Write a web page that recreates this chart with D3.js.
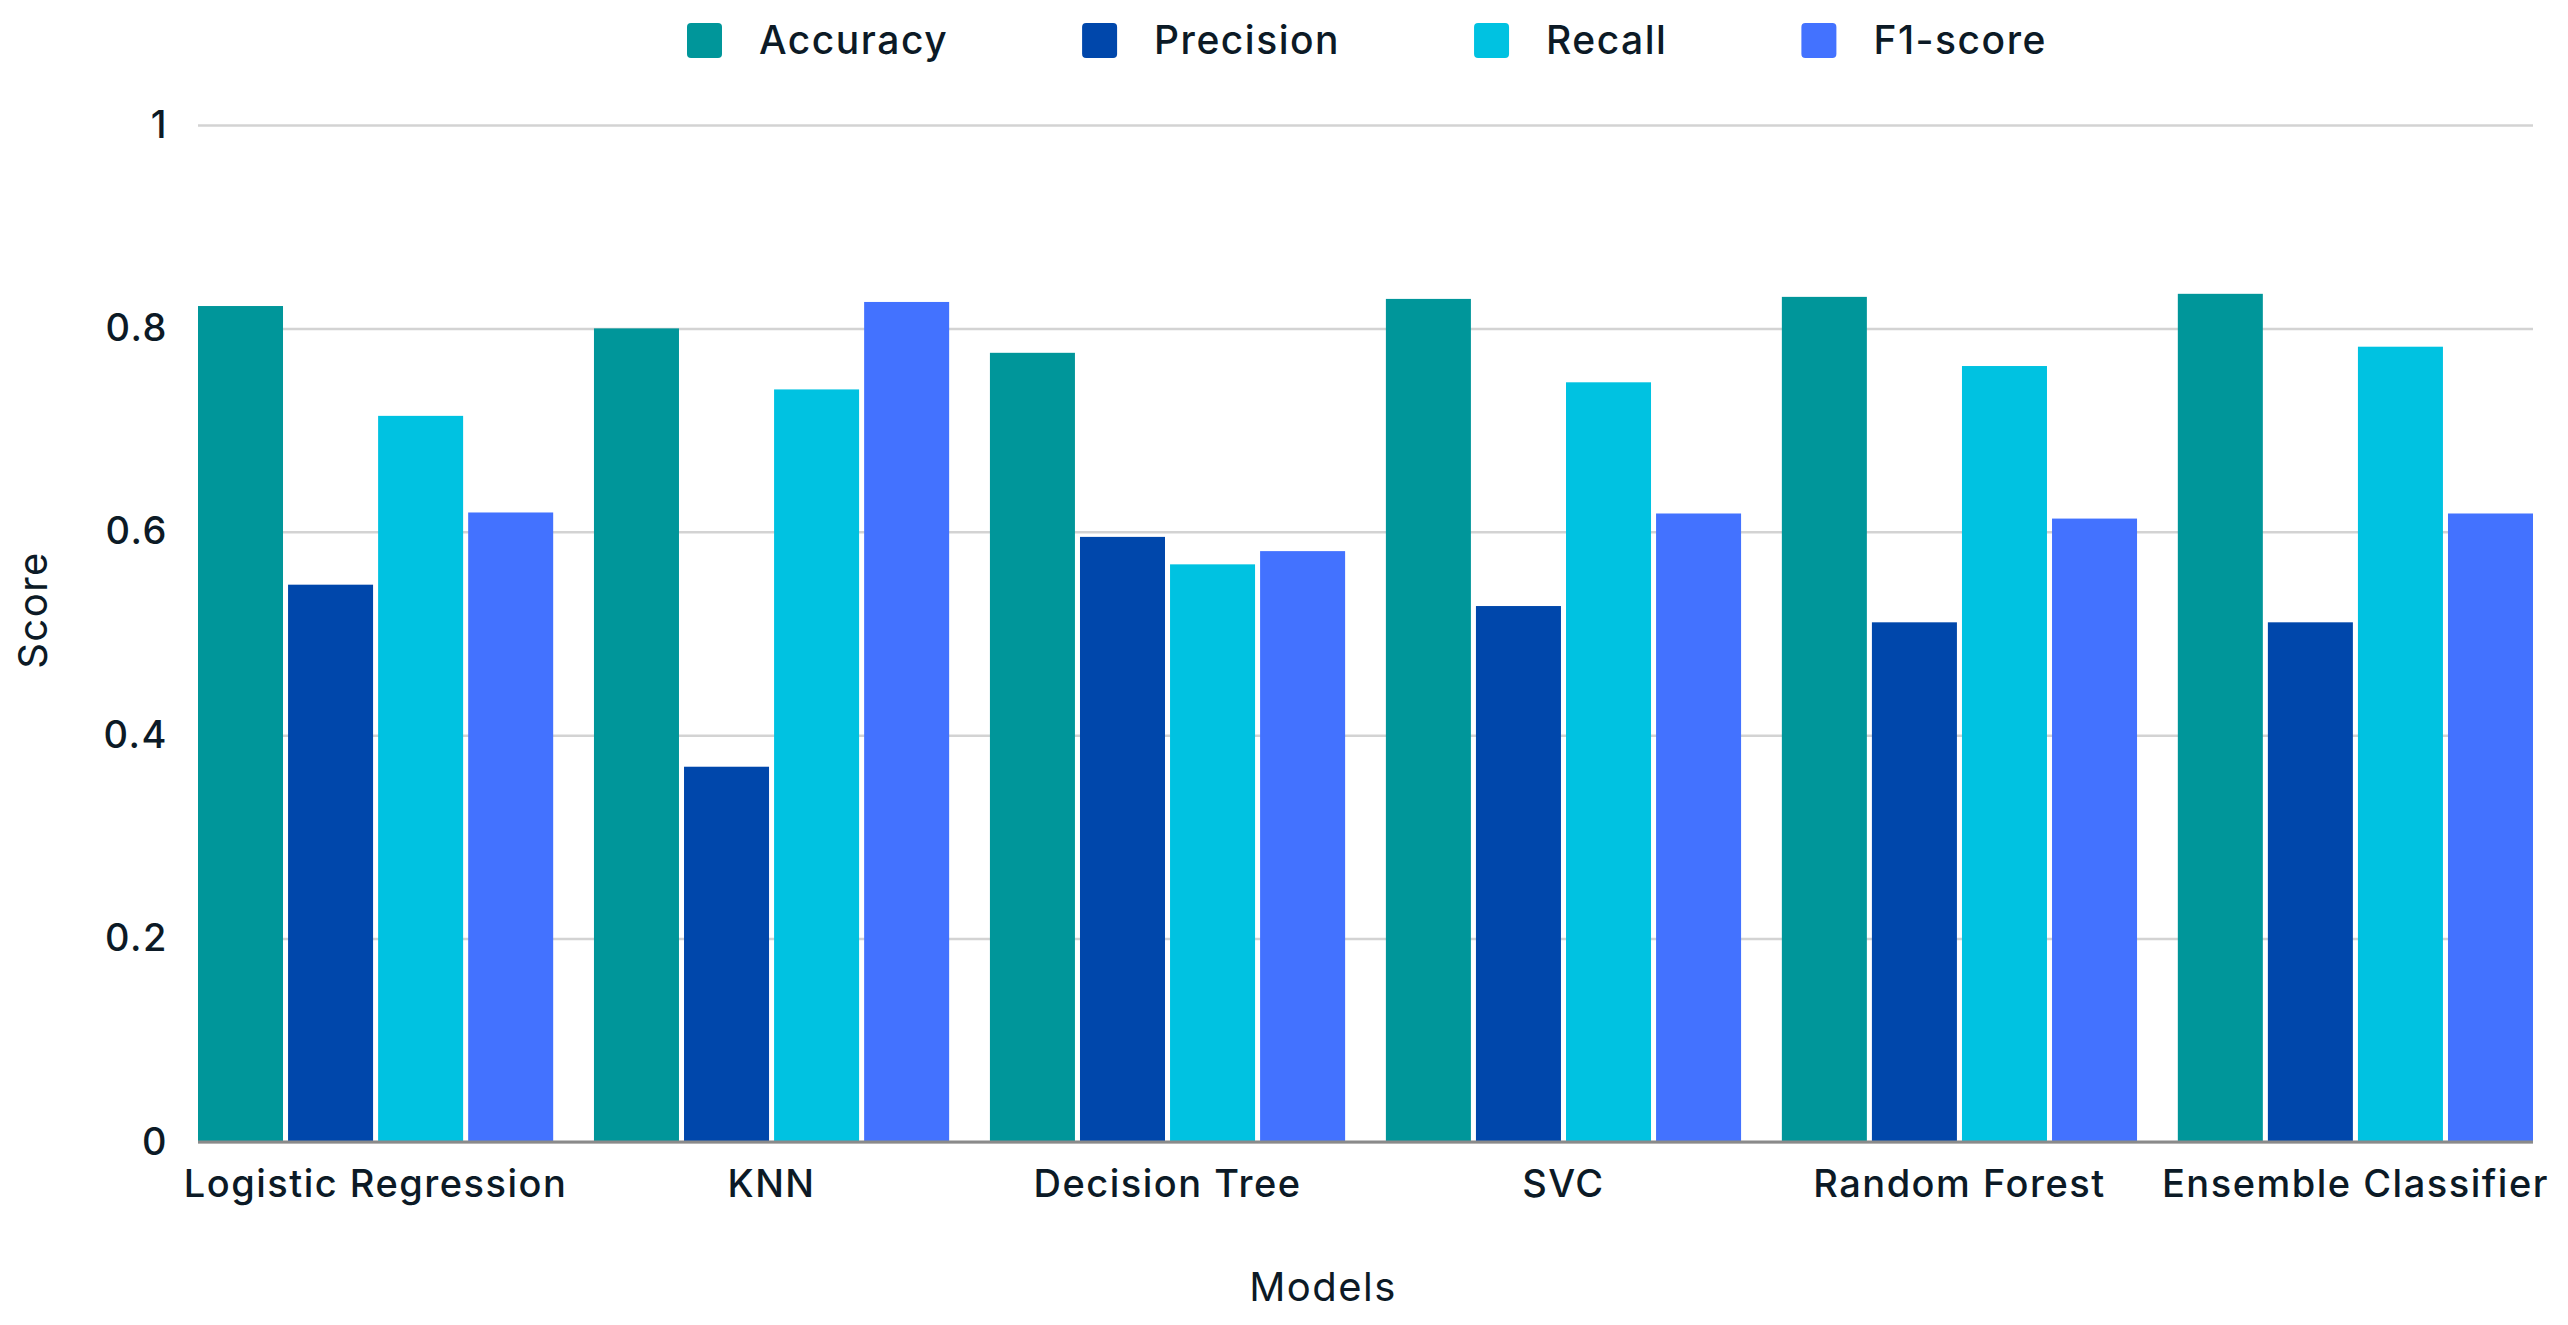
<!DOCTYPE html>
<html>
<head>
<meta charset="utf-8">
<script src="https://cdn.jsdelivr.net/npm/d3@7"></script>
<style>
  body { margin: 0; background: #fff; }
  text { font-family: "Inter", "Open Sans", sans-serif; fill: #0c1a26; letter-spacing: 1.5px; }
</style>
</head>
<body>
<div id="chart"></div>
<script>
// data
var models = ["Logistic Regression", "KNN", "Decision Tree", "SVC", "Random Forest", "Ensemble Classifier"];
var metrics = ["Accuracy", "Precision", "Recall", "F1-score"];
var accuracy  = [0.822, 0.800, 0.776, 0.829, 0.831, 0.834];
var precision = [0.548, 0.369, 0.595, 0.527, 0.511, 0.511];
var recall    = [0.714, 0.740, 0.568, 0.747, 0.763, 0.782];
var f1score   = [0.619, 0.826, 0.581, 0.618, 0.613, 0.618];
var yTicks = [0, 0.2, 0.4, 0.6, 0.8, 1];
var colors = ["#00969a", "#0047ab", "#00c2e1", "#4372ff"];

var series = [accuracy, precision, recall, f1score];
var data = models.map(function(m, i) {
  return { model: m, values: metrics.map(function(k, j) { return { key: k, value: series[j][i] }; }) };
});

var W = 2568, H = 1325;
var margin = {top: 125, right: 35, bottom: 183, left: 198},
    width = W - margin.left - margin.right,
    height = H - margin.top - margin.bottom;

var svg = d3.select("#chart")
  .append("svg")
    .attr("width", W)
    .attr("height", H);

var g = svg.append("g")
    .attr("transform", "translate(" + margin.left + "," + margin.top + ")");

// scales
var x0 = d3.scaleBand()
  .domain(models)
  .range([0, width])
  .paddingInner(0.103)
  .paddingOuter(0);

var x1 = d3.scaleBand()
  .domain(metrics)
  .range([0, x0.bandwidth()])
  .paddingInner(0.056);

var y = d3.scaleLinear()
  .domain([0, 1])
  .range([height, 0]);

var color = d3.scaleOrdinal().domain(metrics).range(colors);

// grid lines + y labels
var yAxis = g.append("g")
  .call(d3.axisLeft(y).tickValues(yTicks).tickSize(-width).tickPadding(30)
    .tickFormat(function(d) { return d === 0 || d === 1 ? d : d3.format(".1f")(d); }));
yAxis.select(".domain").remove();
yAxis.selectAll(".tick line").attr("stroke", "#d3d3d3").attr("stroke-width", 2.5);
yAxis.selectAll(".tick text")
  .style("font-size", "38px").style("font-weight", 500);

// bars
var groups = g.append("g")
  .selectAll("g")
  .data(data)
  .enter()
  .append("g")
    .attr("transform", function(d) { return "translate(" + x0(d.model) + ",0)"; });

groups.selectAll("rect")
  .data(function(d) { return d.values; })
  .enter()
  .append("rect")
    .attr("x", function(d) { return x1(d.key); })
    .attr("y", function(d) { return y(d.value); })
    .attr("width", x1.bandwidth())
    .attr("height", function(d) { return height - y(d.value); })
    .style("fill", function(d) { return color(d.key); });

// baseline
g.append("line")
  .attr("x1", 0).attr("x2", width)
  .attr("y1", height).attr("y2", height)
  .attr("stroke", "#8a8a8a").attr("stroke-width", 3);

// x labels
var xAxis = g.append("g")
  .attr("transform", "translate(0," + height + ")")
  .call(d3.axisBottom(x0).tickSize(0).tickPadding(28));
xAxis.select(".domain").remove();
xAxis.selectAll(".tick text")
  .style("font-size", "38px").style("font-weight", 500);

// axis titles
svg.append("text")
  .attr("x", 1323)
  .attr("y", 1301)
  .attr("text-anchor", "middle")
  .style("font-size", "40px")
  .text("Models");

svg.append("text")
  .attr("transform", "translate(47,610) rotate(-90)")
  .attr("text-anchor", "middle")
  .style("font-size", "40px")
  .text("Score");

// legend
var legend = svg.append("g");
var lx = 687;
metrics.forEach(function(k) {
  legend.append("rect")
    .attr("x", lx).attr("y", 23)
    .attr("width", 35).attr("height", 35)
    .attr("rx", 4)
    .style("fill", color(k));
  var t = legend.append("text")
    .attr("x", lx + 72).attr("y", 54)
    .style("font-size", "39px").style("font-weight", 500)
    .text(k);
  lx += 72 + t.node().getComputedTextLength() + 134;
});
</script>
</body>
</html>
